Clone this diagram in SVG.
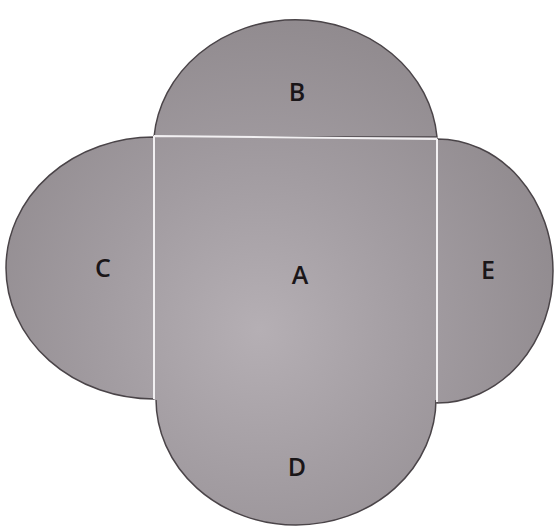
<svg xmlns="http://www.w3.org/2000/svg" width="555" height="530" viewBox="0 0 555 530">
<defs>
<radialGradient id="g" gradientUnits="userSpaceOnUse" cx="260" cy="330" r="320">
<stop offset="0" stop-color="#b5afb4"/>
<stop offset="0.5" stop-color="#a29ca1"/>
<stop offset="1" stop-color="#908a8e"/>
</radialGradient>
<style>
.s{fill:url(#g);stroke:#4a4448;stroke-width:1.5}
.a{fill:url(#g);stroke:none}
.w{stroke:#f2f0f2;stroke-width:2;fill:none}
.t{font-family:"Open Sans","DejaVu Sans",sans-serif;font-size:25px;font-weight:600;fill:#1a1618;text-anchor:middle}
</style>
</defs>
<rect width="555" height="530" fill="#ffffff"/>
<g id="B"><path class="s" d="M154 137 A142 128 0 0 1 437 137 Z"/><text class="t" x="297" y="101">B</text></g>
<g id="C"><path class="s" d="M154 137 A148 131 0 0 0 154 399 Z"/><text class="t" x="103" y="277">C</text></g>
<g id="E"><path class="s" d="M437 139 A116 132 0 0 1 437 403 Z"/><text class="t" x="488" y="279">E</text></g>
<g id="D"><path class="s" d="M156 399 A140 126 0 0 0 436 399 Z"/><text class="t" x="297" y="476">D</text></g>
<g id="A"><rect class="a" x="154" y="137" width="283" height="263"/><text class="t" x="300" y="284">A</text></g>
<g id="edges"><path class="w" d="M154 136 L437 139 M154 136 L154 399 M437 139 L437 402"/></g>
</svg>
